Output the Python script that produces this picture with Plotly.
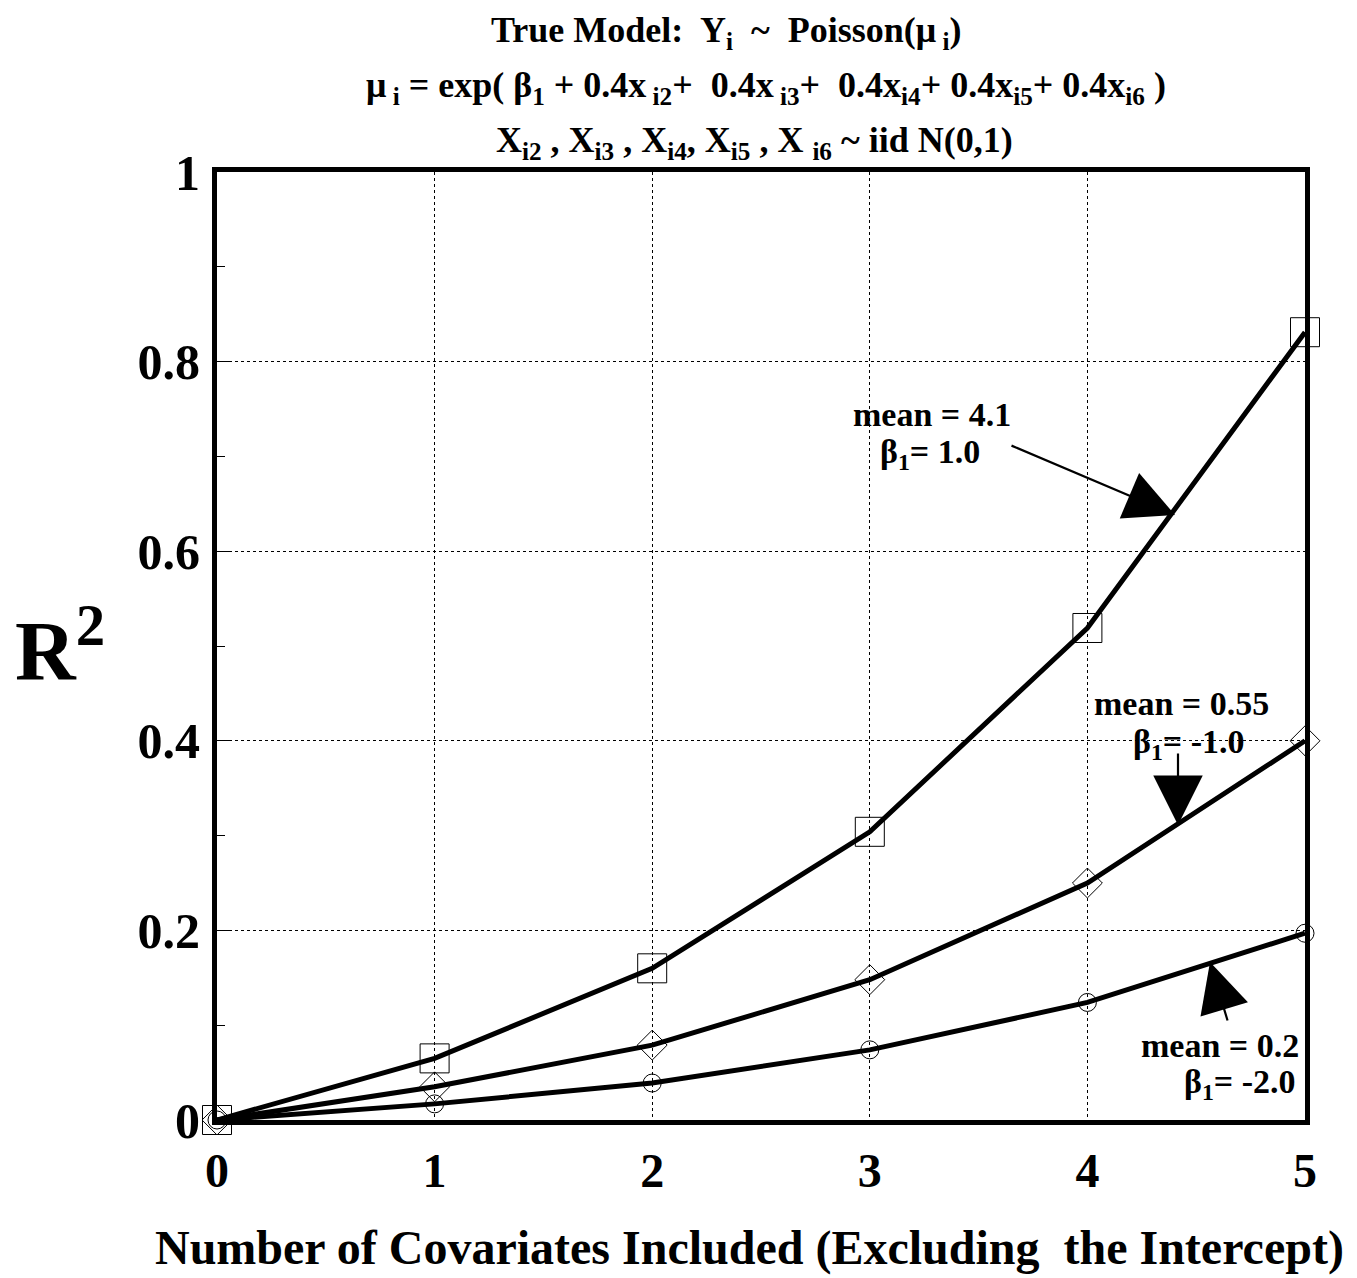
import plotly.graph_objects as go

# ---- data ----
n_covariates = [0, 1, 2, 3, 4, 5]
r2_mean_4_1 = [0.0, 0.065, 0.160, 0.304, 0.519, 0.831]   # beta1 = 1.0
r2_mean_0_55 = [0.0, 0.035, 0.079, 0.148, 0.250, 0.400]  # beta1 = -1.0
r2_mean_0_2 = [0.0, 0.017, 0.039, 0.074, 0.124, 0.197]   # beta1 = -2.0

y_ticks = [0, 0.2, 0.4, 0.6, 0.8, 1]
y_tick_text = ["0", "0.2", "0.4", "0.6", "0.8", "1"]
x_ticks = [0, 1, 2, 3, 4, 5]

FONT = "Liberation Serif"

fig = go.Figure()
series = [
    (r2_mean_4_1, "square-open", 29),
    (r2_mean_0_55, "diamond-open", 23),
    (r2_mean_0_2, "circle-open", 18),
]
for ys, sym, sz in series:
    fig.add_trace(go.Scatter(
        x=n_covariates, y=ys, mode="lines+markers",
        line=dict(color="black", width=5),
        marker=dict(symbol=sym, size=sz, color="black", line=dict(width=1, color="black")),
        cliponaxis=False, showlegend=False,
    ))

W, H = 1357, 1278
L, R, T, B = 217, 52, 172, 158

def px(xp):
    return (xp - L) / (W - L - R) * 5.0

def py(yp):
    return (H - B - yp) / (H - T - B)

def pap_y(yp):
    return (H - B - yp) / (H - T - B)

def pap_x(xp):
    return (xp - L) / (W - L - R)

ann = []
# title lines
title_lines = [
    ("True Model:  Y<sub>i</sub>  ~  Poisson(μ<sub> i</sub>)", 726, 32),
    ("μ<sub> i</sub> = exp( β<sub>1</sub> + 0.4x<sub> i2</sub>+  0.4x<sub> i3</sub>+  0.4x<sub>i4</sub>+ 0.4x<sub>i5</sub>+ 0.4x<sub>i6</sub> )", 766, 88),
    ("X<sub>i2</sub> , X<sub>i3</sub> , X<sub>i4</sub>, X<sub>i5</sub> , X <sub>i6</sub> ~ iid N(0,1)", 754, 142),
]
for txt, xc, yc in title_lines:
    ann.append(dict(text="<b>" + txt + "</b>", xref="paper", yref="paper",
                    x=pap_x(xc), y=pap_y(yc), xanchor="center", yanchor="middle",
                    showarrow=False, font=dict(family=FONT, size=36, color="black")))

# R^2 label
ann.append(dict(text="<b>R<sup>2</sup></b>", xref="paper", yref="paper",
                x=pap_x(60), y=pap_y(645), xanchor="center", yanchor="middle",
                showarrow=False, font=dict(family=FONT, size=84, color="black")))

# x-axis title
ann.append(dict(text="<b>Number of Covariates Included (Excluding  the Intercept)</b>",
                xref="paper", yref="paper", x=pap_x(749), y=pap_y(1248),
                xanchor="center", yanchor="middle", showarrow=False,
                font=dict(family=FONT, size=48, color="black")))

# curve labels: (line1, line2, x, anchor, y1, y2, x2)
labels = [
    ("mean = 4.1", "β<sub>1</sub>= 1.0", 932, "center", 414, 454, 930),
    ("mean = 0.55", "β<sub>1</sub>= -1.0", 1181, "center", 703, 744, 1189),
    ("mean = 0.2", "β<sub>1</sub>= -2.0", 1301, "right", 1045, 1084, 1298),
]
for l1, l2, xc, anc, y1, y2, x2 in labels:
    ann.append(dict(text="<b>" + l1 + "</b>", xref="x", yref="y",
                    x=px(xc), y=py(y1), xanchor=anc, yanchor="middle",
                    showarrow=False, font=dict(family=FONT, size=34, color="black")))
    ann.append(dict(text="<b>" + l2 + "</b>", xref="x", yref="y",
                    x=px(x2), y=py(y2), xanchor=anc, yanchor="middle",
                    showarrow=False, font=dict(family=FONT, size=34, color="black")))

# arrows (tail -> head)
arrows = [
    ((1010, 445), (1175, 515)),
    ((1178, 752), (1178, 825)),
    ((1228, 1022), (1210, 962)),
]
for (tx, ty), (hx, hy) in arrows:
    ann.append(dict(text="", x=px(hx), y=py(hy), ax=px(tx), ay=py(ty),
                    xref="x", yref="y", axref="x", ayref="y",
                    showarrow=True, arrowhead=2, arrowsize=4.5, arrowwidth=2.2,
                    arrowcolor="black"))

fig.update_layout(
    width=W, height=H,
    margin=dict(l=L, r=R, t=T, b=B, pad=0),
    paper_bgcolor="white", plot_bgcolor="white",
    annotations=ann,
    xaxis=dict(
        range=[0, 5], tickvals=x_ticks, ticktext=[str(v) for v in x_ticks],
        showline=True, linecolor="black", linewidth=5, mirror=True,
        showgrid=True, gridcolor="black", gridwidth=1, griddash="dot",
        zeroline=False, ticks="", ticklabelstandoff=4, automargin=False,
        tickfont=dict(family=FONT, size=48, color="black", weight="bold"),
    ),
    yaxis=dict(
        range=[0, 1], tickvals=y_ticks, ticktext=y_tick_text,
        showline=True, linecolor="black", linewidth=5, mirror=True,
        showgrid=True, gridcolor="black", gridwidth=1, griddash="dot",
        zeroline=False, ticks="inside", ticklen=12, tickcolor="black", tickwidth=1,
        minor=dict(tickvals=[0.1, 0.3, 0.5, 0.7, 0.9], ticks="inside", ticklen=8,
                   tickcolor="black", tickwidth=1, showgrid=False),
        ticklabelstandoff=2, automargin=False,
        tickfont=dict(family=FONT, size=50, color="black", weight="bold"),
    ),
)

fig.write_html("out.html")
